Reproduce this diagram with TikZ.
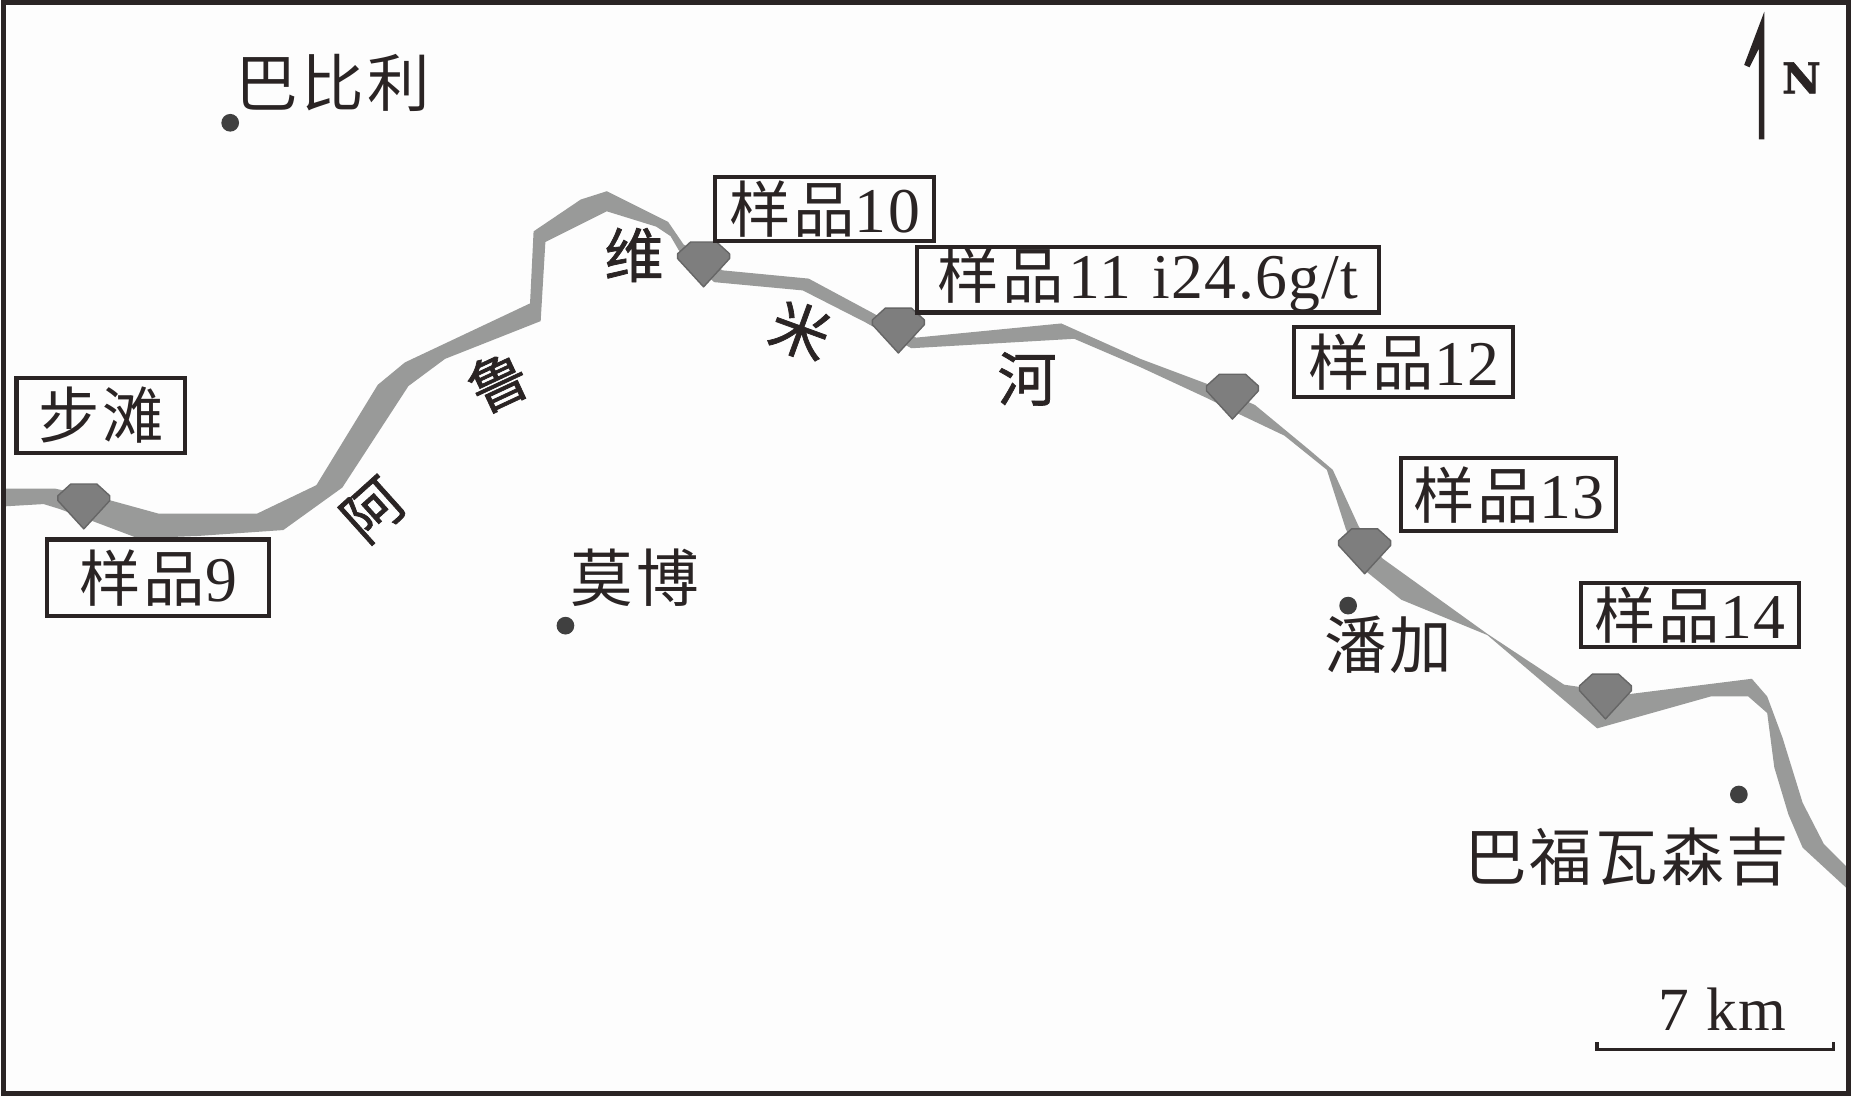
\documentclass[tikz,border=0pt]{standalone}
\usepackage{fontspec}
\setmainfont[LetterSpace=2]{Liberation Serif}
\newfontfamily\cjk[LetterSpace=5]{Noto Sans CJK SC}
\newfontfamily\cjkriver[FakeBold=1.2]{Noto Sans CJK SC}
\newfontfamily\nfont[BoldFeatures={FakeBold=1.5}]{DejaVu Serif}
\definecolor{ink}{HTML}{2A2424}
\definecolor{rivergray}{HTML}{999A99}
\definecolor{gemfill}{HTML}{7E7E7E}
\definecolor{gemline}{HTML}{666666}
\definecolor{dotgray}{HTML}{404040}
\definecolor{paper}{HTML}{FDFDFD}
\newcommand{\yp}[1]{{\fontsize{52}{60}\selectfont\cjk 样品}#1}
\tikzset{
  labelbox/.style={draw=ink,line width=3.5pt,fill=paper,inner sep=0pt,text=ink,font=\fontsize{54}{60}\selectfont,anchor=center},
  place/.style={inner sep=0pt,text=ink,font=\fontsize{53}{60}\selectfont\cjk,anchor=center},
  rivername/.style={inner sep=0pt,text=ink,font=\fontsize{50}{56}\selectfont\cjkriver,anchor=center},
  town/.style={circle,fill=dotgray,minimum size=15pt,inner sep=0pt},
  gem/.style={fill=gemfill,draw=gemline,line width=1.2pt,line join=round}
}
\newcommand{\gemat}[2]{\draw[gem] (#1,#2) -- ++(22,-24) -- ++(0,-4) -- ++(-11,-10) -- ++(-22,0) -- ++(-11,10) -- ++(0,4) -- cycle;}
\begin{document}
\begin{tikzpicture}[x=1pt,y=-1pt]
\useasboundingbox (0,0) rectangle (1568,929.3);
\fill[paper] (0,0) rectangle (1568,929.3);
% river
\fill[rivergray] (3,414) -- (47,414) -- (94,424) -- (134,435) -- (218,435) -- (268,411) -- (320,326) -- (343,307)
 -- (449,257) -- (452,196) -- (492,169) -- (514,162) -- (566,188) -- (579,207) -- (612,229) -- (685,236) -- (739,265)
 -- (776,286) -- (899,274) -- (966,304) -- (1022,325) -- (1063,343) -- (1109,381) -- (1129,398) -- (1151,446)
 -- (1171,473) -- (1260,537) -- (1325,580) -- (1380,588) -- (1484,575) -- (1497,590) -- (1510,625) -- (1527,680) -- (1545,715) -- (1565,735)
 -- (1565,753) -- (1527,718) -- (1515,690) -- (1503,650) -- (1497,604) -- (1481,590) -- (1449,590) -- (1353,617) -- (1260,538)
 -- (1187,508) -- (1156,483) -- (1140,448) -- (1124,398) -- (1088,369) -- (1048,350) -- (1022,337) -- (966,311)
 -- (910,287) -- (772,295) -- (733,273) -- (680,246) -- (605,239) -- (575,212) -- (568,200) -- (556,192) -- (514,179)
 -- (462,205) -- (458,272) -- (377,304) -- (346,327) -- (290,413) -- (240,449) -- (168,454) -- (117,456) -- (80,442)
 -- (50,431) -- (37,427) -- (3,429) -- cycle;
% gems
\gemat{71}{448}
\gemat{596}{243}
\gemat{761}{299}
\gemat{1044}{355}
\gemat{1156}{486}
\gemat{1360}{609}
% frame
\draw[ink,line width=4pt] (3,2) rectangle (1566,926);
% boxes
\node[labelbox,minimum width=143pt,minimum height=64pt] (bt) at (85.5,352) {{\fontsize{52}{60}\selectfont\cjk 步滩}};
\node[labelbox,minimum width=188pt,minimum height=65pt] (s9) at (134,489.5) {\yp{9}};
\node[labelbox,minimum width=185pt,minimum height=54pt] (s10) at (698.5,177) {\yp{10}};
\node[labelbox,minimum width=391pt,minimum height=54pt] (s11) at (972.5,237) {\yp{\hspace{4pt}11\hspace{4pt} i24.6g/t}};
\node[labelbox,minimum width=186pt,minimum height=59pt] (s12) at (1189,306.5) {\yp{12}};
\node[labelbox,minimum width=182pt,minimum height=62pt] (s13) at (1278,419) {\yp{13}};
\node[labelbox,minimum width=185pt,minimum height=54pt] (s14) at (1431.5,521) {\yp{14}};
% towns
\node[town] (d1) at (195,104) {};
\node[town] (d2) at (479,530) {};
\node[town] (d3) at (1142,513) {};
\node[town] (d4) at (1473,673) {};
\node[place] (n1) at (282,70) {巴比利};
\node[place] (n2) at (538,489) {莫博};
\node[place] (n3) at (1176,546) {潘加};
\node[place] (n4) at (1378,726) {巴福瓦森吉};
% river names
\node[rivername,rotate=42] (r1) at (316,432) {阿};
\node[rivername,rotate=25] (r2) at (422,323) {鲁};
\node[rivername] (r3) at (537,216) {维};
\node[rivername,rotate=-20] (r4) at (678,280) {米};
\node[rivername] (r5) at (870,321) {河};
% north
\fill[ink] (1494.5,10) -- (1494.5,118) -- (1490,118) -- (1490,41) -- (1482,57) -- (1477.5,55) -- cycle;
\node[inner sep=0pt,text=ink,font=\fontsize{36}{40}\selectfont\bfseries\nfont] (north) at (1526,66) {N};
% scale
\node[inner sep=0pt,text=ink,font=\fontsize{52}{60}\selectfont] (km) at (1459,855) {7 km};
\coordinate (sa) at (1353,883);
\coordinate (sb) at (1553,883);
\draw[ink,line width=3pt] (sa) -- ++(0,6) -- ([yshift=-6pt]sb) -- (sb);
\end{tikzpicture}
\end{document}
